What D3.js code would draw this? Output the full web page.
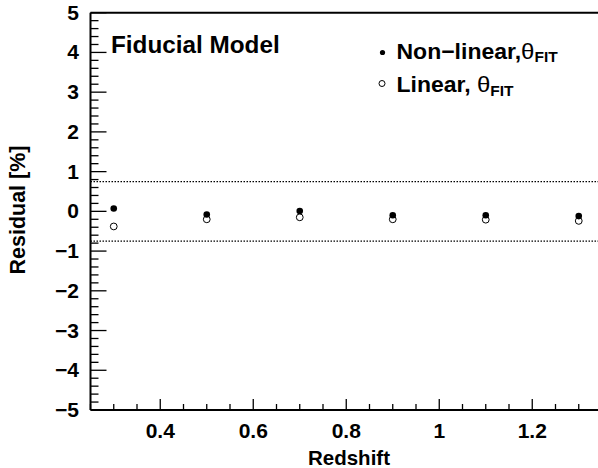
<!DOCTYPE html>
<html><head><meta charset="utf-8">
<script src="https://cdn.jsdelivr.net/npm/d3@7"></script>
<style>body{margin:0;background:#fff;} svg{display:block;}</style>
</head><body>
<svg id="c" width="598" height="468"></svg>
<script>
const redshift = [0.3, 0.5, 0.7, 0.9, 1.1, 1.3];
const nonLinear = [0.07, -0.08, 0.01, -0.10, -0.10, -0.12];
const linear = [-0.38, -0.20, -0.15, -0.20, -0.21, -0.24];
const xTicks = [0.4, 0.6, 0.8, 1.0, 1.2];
const xTickLabels = ["0.4", "0.6", "0.8", "1", "1.2"];
const yTicks = [5, 4, 3, 2, 1, 0, -1, -2, -3, -4, -5];
const yTickLabels = ["5", "4", "3", "2", "1", "0", "\u22121", "\u22122", "\u22123", "\u22124", "\u22125"];
const bandLevels = [0.75, -0.75];

const svg = d3.select("#c");
const L = 90.5, T = 12.7, B = 410;
const x = d3.scaleLinear().domain([0.25, 1.35]).range([L, L + 1.1 * 465]);
const y = d3.scaleLinear().domain([-5, 5]).range([B, T]);
const font = "'Liberation Sans', Arial, Helvetica, sans-serif";
const SY = 0.95;

function label(g, tx, ty, txt, size, anchor, weight) {
  const gg = g.append("g").attr("transform", `translate(${tx},${ty}) scale(1,${SY})`);
  return gg.append("text").attr("font-family", font).attr("font-size", size)
    .attr("font-weight", weight || "bold").attr("text-anchor", anchor || "start").text(txt);
}

// dotted band lines
svg.selectAll("line.band").data(bandLevels).enter().append("line")
  .attr("x1", L).attr("x2", 598).attr("y1", d => y(d)).attr("y2", d => y(d))
  .attr("stroke", "#000").attr("stroke-width", 1.2).attr("stroke-dasharray", "1.5,1.5");

// frame
svg.append("line").attr("x1", L).attr("x2", 598).attr("y1", T).attr("y2", T).attr("stroke", "#000").attr("stroke-width", 2);
svg.append("line").attr("x1", L).attr("x2", 598).attr("y1", B).attr("y2", B).attr("stroke", "#000").attr("stroke-width", 2);
svg.append("line").attr("x1", L).attr("x2", L).attr("y1", T).attr("y2", B).attr("stroke", "#000").attr("stroke-width", 2);

// y ticks
const yMinor = d3.range(-5, 5.001, 0.2);
svg.selectAll("line.ytm").data(yMinor).enter().append("line")
  .attr("x1", L).attr("x2", d => Math.abs(d - Math.round(d)) < 1e-6 ? L + 16 : L + 8)
  .attr("y1", d => y(d)).attr("y2", d => y(d)).attr("stroke", "#000").attr("stroke-width", 1.3);
// x ticks
const xMinor = d3.range(0.25, 1.36, 0.05);
svg.selectAll("line.xtm").data(xMinor).enter().append("line")
  .attr("x1", d => x(d)).attr("x2", d => x(d)).attr("y1", B)
  .attr("y2", d => xTicks.some(t => Math.abs(t - d) < 1e-6) ? B - 11 : B - 6)
  .attr("stroke", "#000").attr("stroke-width", 1.3);

// tick labels
yTicks.forEach((t, i) => label(svg, 79, y(t) + 7, yTickLabels[i], 21, "end"));
xTicks.forEach((t, i) => label(svg, x(t), 437.5, xTickLabels[i], 21, "middle"));

// axis titles
label(svg, 349, 464.5, "Redshift", 20.5, "middle");
svg.append("text").attr("transform", "translate(25,210) rotate(-90)")
  .attr("font-family", font).attr("font-size", 21.5).attr("font-weight", "bold")
  .attr("text-anchor", "middle").text("Residual [%]");

// points
svg.selectAll("circle.nl").data(redshift).enter().append("circle")
  .attr("cx", d => x(d)).attr("cy", (d, i) => y(nonLinear[i])).attr("r", 3.3).attr("fill", "#000");
svg.selectAll("circle.li").data(redshift).enter().append("circle")
  .attr("cx", d => x(d)).attr("cy", (d, i) => y(linear[i])).attr("r", 3.4)
  .attr("fill", "none").attr("stroke", "#000").attr("stroke-width", 1);

// text annotations
label(svg, 111, 52.5, "Fiducial Model", 24.3, "start");

// legend
svg.append("circle").attr("cx", 382.5).attr("cy", 52.5).attr("r", 2.6).attr("fill", "#000");
svg.append("circle").attr("cx", 382).attr("cy", 83.5).attr("r", 3).attr("fill", "none").attr("stroke", "#000").attr("stroke-width", 1);
const t1 = label(svg, 396.5, 58.5, "Non\u2212linear,", 23, "start");
t1.append("tspan").attr("font-weight", "normal").attr("font-size", 24).text("\u03b8");
t1.append("tspan").attr("font-size", 15.5).attr("dy", 4).text("FIT");
const t2 = label(svg, 396.5, 92, "Linear, ", 23, "start");
t2.append("tspan").attr("font-weight", "normal").attr("font-size", 24).text("\u03b8");
t2.append("tspan").attr("font-size", 15.5).attr("dy", 4).text("FIT");
</script>
</body></html>
